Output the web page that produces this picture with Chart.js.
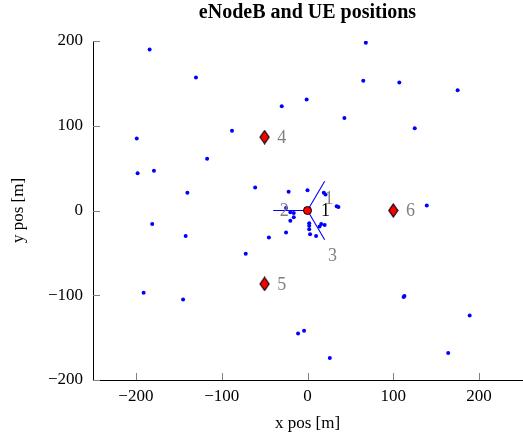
<!DOCTYPE html>
<html>
<head>
<meta charset="utf-8">
<script src="https://cdn.jsdelivr.net/npm/chart.js@4/dist/chart.umd.min.js"></script>
<style>
  html, body { margin: 0; padding: 0; background: #fff; }
  #wrap { width: 523px; height: 438px; }
</style>
</head>
<body>
<div id="wrap"><canvas id="posChart" width="523" height="438"></canvas></div>
<script>
// UE positions [m]
const ueX = [-184, -130, -199, -88, -30, -1, -198, -179, -117, -140, -61, -22, 0,
  68, 65, 107, 175, 43, 125, 19, 21, 34, 36, 139,
  -181, -142, -45, -25, -72, -191, -145, -11, -4,
  -25, -20, -16, -16, -20, 2, 2, 2, 3, 10, 14, 16, 20,
  112, 113, 189, 164, 26];
const ueY = [190, 157, 85, 94, 123, 131, 44, 47, 61, 21, 27, 22, 24,
  198, 153, 151, 142, 109, 97, 21, 19, 5, 4, 6,
  -16, -30, -32, -26, -51, -97, -105, -145, -142,
  3, -2, -3, -8, -12, -15, -18, -22, -28, -30, -19, -16, -17,
  -102, -101, -124, -168, -174];

// eNodeB positions
const enbMainX = [0];
const enbMainY = [0];
const enbOtherX = [-50, -50, 100];
const enbOtherY = [86.6, -86.6, 0];

// sector direction lines from eNodeB 1 (end points)
const sectorEndX = [20, -40, 20];
const sectorEndY = [34.6, 0, -34.6];

// text labels
const labelText = ['1', '1', '2', '3', '4', '5', '6'];
const labelX = [21, 25, -27, 29, -30, -30, 120];
const labelY = [0, 14, 0, -53, 86.6, -86.6, 0];
const labelDark = [true, false, false, false, false, false, false];

const xTicks = [-200, -100, 0, 100, 200];
const yTicks = [-200, -100, 0, 100, 200];

const serif = "'Liberation Serif', 'DejaVu Serif', serif";

function fmt(v) { return v < 0 ? '\u2212' + Math.abs(v) : String(v); }

// tall red diamond marker
function makeDiamond() {
  const c = document.createElement('canvas');
  c.width = 11; c.height = 15;
  const g = c.getContext('2d');
  g.beginPath();
  g.moveTo(5.5, 1); g.lineTo(10, 7.5); g.lineTo(5.5, 14); g.lineTo(1, 7.5); g.closePath();
  g.fillStyle = '#ff0000'; g.fill();
  g.lineWidth = 1.2; g.strokeStyle = '#000'; g.stroke();
  return c;
}

const sectorSets = sectorEndX.map((ex, i) => ({
  type: 'scatter',
  data: [{ x: enbMainX[0], y: enbMainY[0] }, { x: ex, y: sectorEndY[i] }],
  showLine: true,
  borderColor: '#0000ff',
  borderWidth: 1.1,
  pointRadius: 0,
}));

const inwardTicks = {
  id: 'inwardTicks',
  afterDatasetsDraw(chart) {
    const ctx = chart.ctx, a = chart.chartArea;
    const xs = chart.scales.x, ys = chart.scales.y;
    ctx.save();
    ctx.strokeStyle = '#808080';
    ctx.lineWidth = 1;
    xTicks.forEach(v => {
      const px = Math.round(xs.getPixelForValue(v)) + 0.5;
      ctx.beginPath(); ctx.moveTo(px, a.bottom); ctx.lineTo(px, a.bottom - 7); ctx.stroke();
    });
    yTicks.forEach(v => {
      const py = Math.round(ys.getPixelForValue(v)) + 0.5;
      ctx.beginPath(); ctx.moveTo(a.left, py); ctx.lineTo(a.left + 7, py); ctx.stroke();
    });
    ctx.restore();
  }
};

const textLabels = {
  id: 'textLabels',
  afterDatasetsDraw(chart) {
    const ctx = chart.ctx;
    const xs = chart.scales.x, ys = chart.scales.y;
    ctx.save();
    ctx.font = '18px ' + serif;
    ctx.textAlign = 'center';
    ctx.textBaseline = 'middle';
    labelText.forEach((t, i) => {
      ctx.fillStyle = labelDark[i] ? '#000' : '#808080';
      ctx.fillText(t, xs.getPixelForValue(labelX[i]), ys.getPixelForValue(labelY[i]) + 1);
    });
    ctx.restore();
  }
};

new Chart(document.getElementById('posChart'), {
  type: 'scatter',
  data: {
    datasets: [
      { data: enbMainX.map((x, i) => ({ x, y: enbMainY[i] })), pointStyle: 'circle', pointRadius: 4, backgroundColor: '#ff0000', borderColor: '#000', borderWidth: 1 },
      { data: enbOtherX.map((x, i) => ({ x, y: enbOtherY[i] })), pointStyle: makeDiamond() },
      ...sectorSets,
      { data: ueX.map((x, i) => ({ x, y: ueY[i] })), pointStyle: 'circle', pointRadius: 2, backgroundColor: '#0000ff', borderWidth: 0 },
    ],
  },
  options: {
    responsive: false,
    animation: false,
    layout: { autoPadding: false, padding: { left: 0, right: 1, top: 0, bottom: 0 } },
    plugins: {
      legend: { display: false },
      tooltip: { enabled: false },
      title: { display: true, fullSize: false, text: 'eNodeB and UE positions', color: '#000', font: { family: serif, size: 20, weight: 'bold' }, padding: { top: 1, bottom: 16 } },
    },
    scales: {
      x: {
        type: 'linear', min: -250, max: 250,
        afterBuildTicks: s => { s.ticks = xTicks.map(v => ({ value: v })); },
        afterFit: s => { s.height = 58; s.paddingLeft = 0; s.paddingRight = 0; },
        grid: { display: false, drawTicks: false, tickLength: 0 },
        border: { display: true, color: '#000', width: 1 },
        ticks: { color: '#000', font: { family: serif, size: 17 }, padding: 6, callback: fmt, maxRotation: 0 },
        title: { display: true, text: 'x pos [m]', color: '#000', font: { family: serif, size: 17 }, padding: { top: 3 } },
      },
      y: {
        type: 'linear', min: -200, max: 200,
        afterBuildTicks: s => { s.ticks = yTicks.map(v => ({ value: v })); },
        afterFit: s => { s.width = 93; s.paddingTop = 0; s.paddingBottom = 0; },
        grid: { display: false, drawTicks: false, tickLength: 0 },
        border: { display: true, color: '#000', width: 1 },
        ticks: { color: '#000', font: { family: serif, size: 17 }, padding: 10, callback: fmt },
        title: { display: true, text: 'y pos [m]', color: '#000', font: { family: serif, size: 17 }, padding: { top: 8 } },
      },
    },
  },
  plugins: [inwardTicks, textLabels],
});
</script>
</body>
</html>
